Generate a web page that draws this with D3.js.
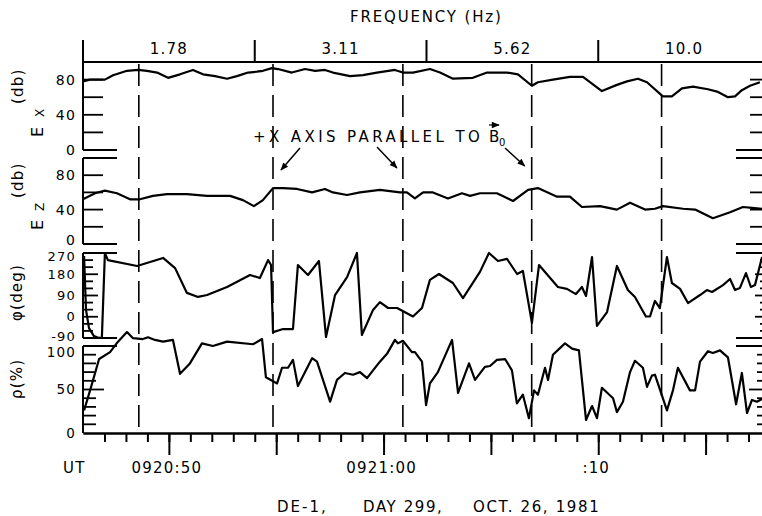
<!DOCTYPE html>
<html>
<head>
<meta charset="utf-8">
<script src="https://cdn.jsdelivr.net/npm/d3@7"></script>
<style>
  body { margin: 0; background: #fff; }
  svg text { font-family: "DejaVu Sans", sans-serif; fill: #000; letter-spacing: 1.2px; }
</style>
</head>
<body>
<div id="chart"></div>
<script>
// tempi in secondi dopo le 09:20:00 UT
const exTime = [46.00, 46.33, 47.02, 47.40, 48.05, 48.56, 48.98, 49.45, 49.96, 50.52, 51.12, 51.59, 52.15, 52.71, 53.17,
  53.69, 54.10, 54.38, 54.80, 55.08, 55.73, 56.34, 56.81, 57.27, 57.64, 58.44, 59.04, 59.69, 60.53, 60.90,
  61.37, 62.16, 62.63, 63.23, 64.16, 64.82, 65.19, 65.75, 66.26, 66.91, 67.19, 67.89, 68.68, 69.29, 70.17,
  70.87, 71.34, 71.85, 72.27, 73.01, 73.43, 73.90, 74.41, 75.11, 75.58, 76.04, 76.37, 76.69, 77.07, 77.53];
const exDb = [78, 80, 80, 85, 90, 91, 90, 88, 82, 86, 91, 86, 84, 81, 84,
  88, 89, 90, 93, 92, 88, 92, 90, 91, 88, 84, 85, 88, 91, 88,
  88, 92, 88, 81, 82, 88, 88, 88, 86, 73, 77, 80, 83, 83, 67,
  74, 78, 81, 77, 61, 61, 70, 72, 69, 66, 60, 61, 68, 73, 77];

const ezTime = [46.00, 46.56, 47.02, 47.58, 48.19, 48.65, 49.26, 49.91, 50.84, 51.78, 52.85, 53.45, 53.96, 54.38, 54.85,
  55.32, 55.97, 56.67, 57.27, 57.64, 58.30, 58.90, 59.83, 60.77, 61.09, 61.46, 61.84, 62.30, 63.00, 63.65,
  64.03, 64.49, 65.28, 66.03, 66.73, 67.19, 68.08, 68.68, 69.24, 70.08, 70.87, 71.48, 72.18, 72.64, 73.01,
  73.95, 74.51, 75.34, 76.14, 76.74, 77.16, 77.63];
const ezDb = [52, 59, 62, 59, 52, 52, 56, 58, 58, 56, 56, 51, 44, 51, 65,
  65, 64, 60, 64, 60, 57, 60, 63, 60, 60, 53, 60, 60, 53, 59,
  56, 59, 59, 50, 63, 65, 55, 55, 43, 44, 40, 48, 40, 41, 44,
  41, 40, 30, 37, 43, 42, 41];

const phiTime = [46.05, 46.14, 46.28, 46.51, 46.75, 46.88, 47.02, 47.16, 48.52, 49.73, 50.29, 50.84, 51.36, 51.78, 52.71,
  53.78, 54.24, 54.62, 54.76, 54.85, 55.32, 55.78, 56.01, 56.48, 56.99, 57.32, 57.74, 58.30, 58.76, 58.99,
  59.51, 59.83, 60.21, 60.63, 61.37, 61.79, 62.16, 62.58, 63.23, 63.70, 64.49, 64.91, 65.33, 65.75, 66.22,
  66.49, 66.91, 67.24, 68.12, 68.54, 68.96, 69.24, 69.43, 69.71, 69.94, 70.41, 70.87, 71.38, 71.71, 72.22,
  72.41, 72.64, 72.87, 73.20, 73.43, 73.81, 74.18, 74.74, 75.06, 75.30, 75.81, 76.14, 76.37, 76.60, 76.88,
  77.11, 77.30, 77.63];
const phiDeg = [257, 29, -48, -82, -90, -86, 270, 240, 215, 249, 206, 101, 84, 92, 126,
  177, 164, 240, 219, -65, -52, -52, 219, 177, 236, -86, 92, 168, 270, -77,
  29, 62, 37, 37, 1, 37, 156, 181, 143, 79, 190, 270, 236, 245, 181,
  194, -26, 219, 126, 118, 96, 126, 88, 253, -39, 20, 215, 113, 84, 1,
  1, 67, 37, 253, 143, 118, 58, 92, 113, 105, 134, 160, 113, 122, 185,
  126, 134, 253];

const rhoTime = [46.05, 46.33, 46.75, 47.26, 47.63, 48.05, 48.33, 48.79, 49.03, 49.35, 49.73, 50.19, 50.52, 50.98, 51.54,
  52.05, 52.71, 53.92, 54.34, 54.52, 55.04, 55.27, 55.55, 55.78, 56.01, 56.67, 56.90, 57.51, 57.83, 58.20,
  58.58, 58.90, 59.23, 59.51, 59.83, 60.16, 60.53, 60.67, 60.90, 61.32, 61.46, 61.79, 61.98, 62.16, 62.53,
  63.19, 63.47, 63.98, 64.26, 64.72, 64.96, 65.28, 65.66, 65.98, 66.21, 66.49, 66.77, 67.01, 67.19, 67.52,
  67.66, 67.89, 68.45, 68.78, 69.10, 69.43, 69.71, 69.94, 70.17, 70.69, 70.87, 71.15, 71.48, 71.71, 72.08,
  72.27, 72.50, 72.64, 73.20, 73.48, 73.71, 74.27, 74.51, 74.74, 75.11, 75.34, 75.67, 76.04, 76.42, 76.69,
  76.93, 77.16, 77.39, 77.63];
const rhoPct = [26, 49, 85, 93, 105, 116, 109, 108, 110, 107, 105, 107, 68, 80, 103,
  100, 105, 102, 108, 64, 57, 75, 75, 84, 54, 86, 82, 36, 61, 69,
  67, 70, 63, 72, 82, 91, 107, 103, 106, 93, 93, 82, 32, 57, 70,
  107, 46, 80, 61, 76, 77, 84, 85, 72, 34, 44, 17, 49, 44, 75,
  61, 90, 103, 97, 95, 15, 31, 17, 52, 40, 24, 36, 70, 83, 75,
  53, 66, 67, 26, 49, 75, 49, 49, 82, 94, 92, 95, 87, 33, 69,
  23, 38, 36, 39];

// bande di frequenza (inizio banda in secondi) ed etichette
const freqEdges = [46, 54, 62, 70];
const freqCenters = [50, 58, 66, 74];
const freqLabels = ["1.78", "3.11", "5.62", "10.0"];

// istanti con asse +X parallelo a B0 (linee tratteggiate)
const parallelTimes = [48.6, 54.85, 60.9, 66.9, 72.95];

// asse dei tempi
const timeLabelAt = [50, 60, 70];
const timeLabels = ["0920:50", "0921:00", ":10"];

const W = 762, H = 516;
const X0 = 83, XR = 770;

const svg = d3.select('#chart').append('svg')
    .attr('width', W)
    .attr('height', H);

const x = d3.scaleLinear().domain([46, 78]).range([X0, XR]);

const line = (g, x1, y1, x2, y2, w) => g.append('line')
    .attr('x1', x1).attr('y1', y1).attr('x2', x2).attr('y2', y2)
    .attr('stroke', '#000').attr('stroke-width', w || 2);

// asse frequenza in alto
line(svg, X0, 62, W, 62, 2);
freqEdges.forEach(t => line(svg, x(t), 40, x(t), 62, 2));
svg.selectAll('.freq-label')
    .data(freqLabels)
    .join('text')
    .attr('class', 'freq-label')
    .attr('x', (d, i) => x(freqCenters[i]))
    .attr('y', 54)
    .attr('text-anchor', 'middle')
    .attr('font-size', 15)
    .text(d => d);
svg.append('text')
    .attr('x', 350).attr('y', 22)
    .attr('font-size', 15)
    .attr('textLength', 152).attr('lengthAdjust', 'spacing')
    .text('FREQUENCY (Hz)');

// linee tratteggiate
svg.selectAll('.par-line')
    .data(parallelTimes)
    .join('line')
    .attr('class', 'par-line')
    .attr('x1', d => x(d)).attr('x2', d => x(d))
    .attr('y1', 64).attr('y2', 432)
    .attr('stroke', '#000')
    .attr('stroke-width', 1.6)
    .attr('stroke-dasharray', '22,9');

// pannelli
function drawPanel(o) {
    const y = d3.scaleLinear().domain(o.domain).range([o.y0, o.y1]);
    const g = svg.append('g');
    line(g, X0, o.axisTop || o.y1, X0, o.y0, 2);
    const ticks = d3.range(o.domain[0], o.domain[1] + 0.001, o.step)
        .filter(v => !(o.skip || []).includes(v));
    ticks.forEach(v => {
        const len = o.tickLen(v);
        line(g, X0, y(v), X0 + len, y(v), 1.8);
        line(g, XR, y(v), XR - len, y(v), 1.8);
    });
    g.selectAll('.tl')
        .data(o.labels)
        .join('text')
        .attr('x', 76)
        .attr('y', d => y(d) + ((o.labelShift || {})[d] || 0))
        .attr('dy', '0.36em')
        .attr('text-anchor', 'end')
        .attr('font-size', o.labelSize || 14)
        .text(d => d < 0 ? '-' + Math.abs(d) : d);
    const pts = o.t.map((t, i) => [t, o.v[i]]);
    g.append('path')
        .datum(pts)
        .attr('fill', 'none')
        .attr('stroke', '#000')
        .attr('stroke-width', 2.2)
        .attr('stroke-linejoin', 'round')
        .attr('d', d3.line().x(d => x(d[0])).y(d => y(d[1])));
}

drawPanel({ t: exTime, v: exDb, domain: [0, 100], y0: 150, y1: 62, axisTop: 40, step: 20,
    labels: [0, 40, 80], skip: [100], tickLen: v => v === 0 ? 34 : 20 });
drawPanel({ t: ezTime, v: ezDb, domain: [0, 100], y0: 244, y1: 158, step: 20,
    labels: [0, 40, 80], labelShift: { 0: -4 }, tickLen: v => (v === 0 || v === 100) ? 34 : 20 });
drawPanel({ t: phiTime, v: phiDeg, domain: [-90, 270], y0: 338, y1: 253, step: 30,
    labels: [-90, 0, 90, 180, 270], labelShift: { 270: 3, '-90': -2 }, labelSize: 13,
    tickLen: v => (v === -90 || v === 270) ? 34 : (v % 90 === 0 ? 15 : 10) });
drawPanel({ t: rhoTime, v: rhoPct, domain: [0, 100], y0: 433, y1: 346, step: 10,
    labels: [0, 50, 100], labelShift: { 100: 6 }, labelSize: 13.5, skip: [0],
    tickLen: v => v === 100 ? 34 : (v === 50 ? 21 : 13) });

// asse dei tempi
svg.append('g')
    .attr('transform', 'translate(0,433)')
    .call(d3.axisBottom(x).tickValues(d3.range(47, 78)).tickSize(9).tickSizeOuter(0).tickFormat(''));
svg.append('g')
    .attr('transform', 'translate(0,433)')
    .call(d3.axisBottom(x).tickValues(d3.range(50, 78, 5)).tickSize(22).tickSizeOuter(0).tickFormat(''));
svg.selectAll('.domain, .tick line').attr('stroke', '#000').attr('stroke-width', 2);

svg.selectAll('.time-label')
    .data(timeLabels)
    .join('text')
    .attr('class', 'time-label')
    .attr('x', (d, i) => x(timeLabelAt[i]) - 2)
    .attr('y', 473)
    .attr('text-anchor', 'middle')
    .attr('font-size', 15)
    .text(d => d);
svg.append('text').attr('x', 63).attr('y', 473).attr('font-size', 15).text('UT');

// didascalia in basso
[['DE-1,', 277, 50], ['DAY 299,', 363, 80], ['OCT. 26, 1981', 473, 127]].forEach(([s, px, len]) => {
    svg.append('text').attr('x', px).attr('y', 512).attr('font-size', 15)
        .attr('textLength', len).attr('lengthAdjust', 'spacing').text(s);
});

// etichette asse y (ruotate)
function rot(s, bx, by, size) {
    svg.append('text')
        .attr('transform', `translate(${bx},${by}) rotate(-90)`)
        .attr('font-size', size)
        .text(s);
}
rot('E', 43, 137, 16);
rot('X', 44, 117, 12);
rot('(db)', 23, 104, 15);
rot('E', 43, 230, 16);
rot('Z', 44, 211, 12);
rot('(db)', 23, 198, 15);
rot('\u03c6(deg)', 22, 321, 15);
rot('\u03c1(%)', 22, 399, 15);

// annotazione +X parallelo a B0
const defs = svg.append('defs');
defs.append('marker')
    .attr('id', 'ah')
    .attr('viewBox', '0 0 10 10')
    .attr('refX', 9).attr('refY', 5)
    .attr('markerWidth', 10).attr('markerHeight', 8)
    .attr('markerUnits', 'userSpaceOnUse')
    .attr('orient', 'auto')
    .append('path')
    .attr('d', 'M0,1 L10,5 L0,9 Z')
    .attr('fill', '#000');

svg.append('text')
    .attr('x', 253).attr('y', 142)
    .attr('font-size', 15)
    .attr('textLength', 228).attr('lengthAdjust', 'spacing')
    .text('+X  AXIS  PARALLEL  TO');
svg.append('text').attr('x', 489).attr('y', 142).attr('font-size', 15).text('B');
svg.append('text').attr('x', 499).attr('y', 146).attr('font-size', 10).text('0');
line(svg, 489, 125, 499, 125, 1.2).attr('marker-end', 'url(#ah)');

const arrows = [
    { from: [300, 148], t: parallelTimes[1], dx: 8, y: 170 },
    { from: [377, 147], t: parallelTimes[2], dx: -6, y: 168 },
    { from: [505, 148], t: parallelTimes[3], dx: -7, y: 166 }
];
arrows.forEach(a => {
    line(svg, a.from[0], a.from[1], x(a.t) + a.dx, a.y, 1.5).attr('marker-end', 'url(#ah)');
});
</script>
</body>
</html>
